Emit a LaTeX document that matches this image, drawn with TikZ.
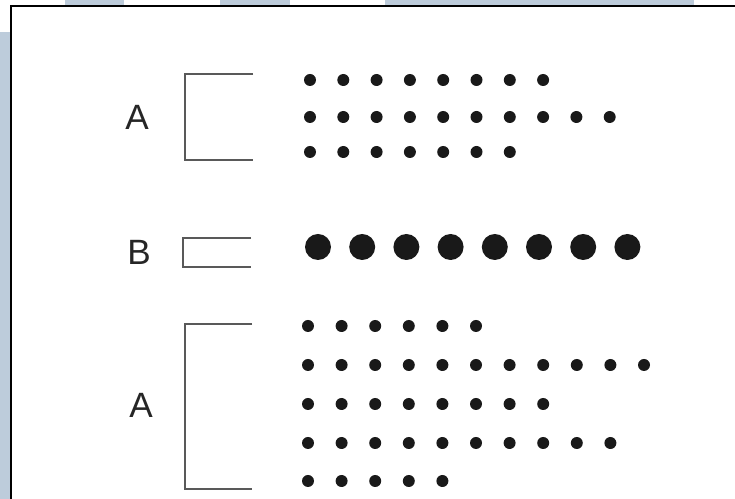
\documentclass[tikz,border=0pt]{standalone}
\usepackage{fontspec}
\setmainfont{Liberation Sans}
\definecolor{slideblue}{RGB}{189,204,219}
\begin{document}
\begin{tikzpicture}[x=0.02cm, y=-0.02cm,
    lbl/.style={font=\fontsize{20}{23}\selectfont, inner sep=0pt, text=black!85},
    brk/.style={draw=black!65, line width=1pt},
  ]
  \useasboundingbox (0,0) rectangle (735,499);
  % slide background and frame
  \fill[white] (0,0) rectangle (735,499);
  \fill[slideblue] (0,32) rectangle (10,499);
  \foreach \xa/\xb in {65/124, 220/290, 385/694}
    \fill[slideblue] (\xa,0) rectangle (\xb,6);
  \draw[line width=1.1pt] (735,6) -- (11,6) -- (11,499);

  % labels
  \node[lbl] (atop) at (137,117) {A};
  \node[lbl] (bmid) at (139,252) {B};
  \node[lbl] (abot) at (141,405) {A};

  % brackets
  \draw[brk] (253,74) -- (185,74) -- (185,160) -- (253,160);
  \draw[brk] (251,238) -- (183,238) -- (183,267) -- (251,267);
  \draw[brk] (252,324) -- (185,324) -- (185,489) -- (252,489);

  % small dots, upper group
  \foreach \y/\n in {80/8, 117/10, 152/7}
    \foreach \i in {1,...,\n}
      \fill[black!90] (310+33.3*\i-33.3, \y) circle[radius=6];

  % large dots
  \foreach \i in {1,...,8}
    \fill[black!90] (318+44.2*\i-44.2, 247) circle[radius=13];

  % small dots, lower group
  \foreach \y/\n in {326/6, 365/11, 404/8, 443/10, 481/5}
    \foreach \i in {1,...,\n}
      \fill[black!90] (308+33.6*\i-33.6, \y) circle[radius=6];
\end{tikzpicture}
\end{document}
